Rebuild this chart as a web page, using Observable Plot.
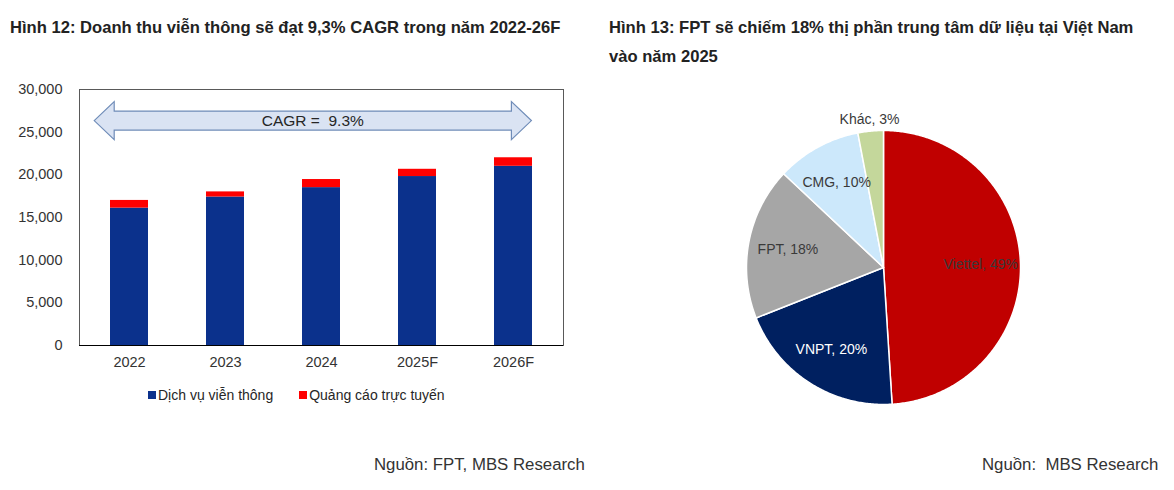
<!DOCTYPE html>
<html>
<head>
<meta charset="utf-8">
<script src="https://cdn.jsdelivr.net/npm/d3@7"></script>
<script src="https://cdn.jsdelivr.net/npm/@observablehq/plot@0.6"></script>
<style>
  html, body { margin: 0; padding: 0; }
  body { width: 1174px; height: 490px; background: #fff; position: relative; overflow: hidden;
         font-family: "Liberation Sans", Arial, sans-serif; }
  .title { position: absolute; font-weight: bold; font-size: 16.6px; color: #222; line-height: 29px; white-space: nowrap; }
  .src { position: absolute; font-size: 16.8px; color: #333; white-space: pre; line-height: 19px; }
  .legend { position: absolute; font-size: 14px; color: #262626; white-space: nowrap; line-height: 16px; }
  .legend span.item { display: inline-flex; align-items: center; }
  .legend span.sw { display: inline-block; width: 8px; height: 8px; margin-right: 2px; }
  #bars, #pie { position: absolute; }
</style>
</head>
<body>
<div class="title" style="left:10px; top:13px;">Hình 12: Doanh thu viễn thông sẽ đạt 9,3% CAGR trong năm 2022-26F</div>
<div class="title" style="left:609px; top:13px;">Hình 13: FPT sẽ chiếm 18% thị phần trung tâm dữ liệu tại Việt Nam<br>vào năm 2025</div>
<div id="bars" style="left:0; top:70px;"></div>
<div id="legend" class="legend" style="left:148px; top:386px;"></div>
<div id="pie" style="left:600px; top:90px;"></div>
<div class="src" style="left:374px; top:455px;">Nguồn: FPT, MBS Research</div>
<div class="src" style="left:982px; top:455px;">Nguồn:  MBS Research</div>

<script>
// ---------- Data ----------
const years = ["2022", "2023", "2024", "2025F", "2026F"];
const seriesNames = ["Dịch vụ viễn thông", "Quảng cáo trực tuyến"];
const telecomValues = [16100, 17400, 18500, 19800, 21000];
const adsValues = [900, 600, 950, 850, 1000];
const yTicks = [0, 5000, 10000, 15000, 20000, 25000, 30000];
const barColors = ["#0b318c", "#ff0000"];
const cagrLabel = "CAGR =  9.3%";
const cagrLevel = 26300;

const pieNames = ["Viettel", "VNPT", "FPT", "CMG", "Khác"];
const pieShares = [49, 20, 18, 10, 3];
const pieColors = ["#c00000", "#002060", "#a6a6a6", "#cce8fb", "#c4d79b"];

// ---------- Bar chart ----------
const barRows = [];
years.forEach((y, i) => {
  barRows.push({year: y, series: seriesNames[0], value: telecomValues[i]});
  barRows.push({year: y, series: seriesNames[1], value: adsValues[i]});
});

function cagrArrow(index, scales, values, dimensions) {
  const xs = scales.x, ys = scales.y;
  const {width, marginLeft, marginRight} = dimensions;
  const step = (width - marginLeft - marginRight) / years.length;
  const bw = xs.bandwidth ? xs.bandwidth() : step * 0.4;
  const c0 = xs(years[0]) + bw / 2;
  const cN = xs(years[years.length - 1]) + bw / 2;
  const L = c0 - 0.36 * step, R = cN + 0.19 * step;
  const yc = ys(cagrLevel);
  const shaft = 9.5, head = 19, headLen = 20;
  const d = [
    [L, yc], [L + headLen, yc - head], [L + headLen, yc - shaft],
    [R - headLen, yc - shaft], [R - headLen, yc - head], [R, yc],
    [R - headLen, yc + head], [R - headLen, yc + shaft],
    [L + headLen, yc + shaft], [L + headLen, yc + head]
  ].map((p, i) => (i ? "L" : "M") + p[0].toFixed(1) + "," + p[1].toFixed(1)).join("") + "Z";
  const g = d3.create("svg:g");
  g.append("path").attr("d", d).attr("fill", "#dae3f3").attr("stroke", "#6f8cb8").attr("stroke-width", 1.2);
  g.append("text").attr("x", (L + R) / 2).attr("y", yc).attr("dy", "0.35em")
    .attr("text-anchor", "middle").attr("font-size", 15.5).attr("fill", "#262626")
    .style("white-space", "pre").text(cagrLabel);
  return g.node();
}

const bars = Plot.plot({
  width: 600, height: 310,
  marginTop: 19, marginBottom: 35, marginLeft: 79, marginRight: 37,
  style: {fontSize: "14.5px", fontFamily: "'Liberation Sans', Arial, sans-serif", color: "#333", background: "transparent", overflow: "visible"},
  x: {domain: years, paddingInner: 0.6, paddingOuter: 0.3, label: null, tickSize: 0, tickPadding: 11},
  y: {domain: [0, 30000], ticks: yTicks, tickFormat: d3.format(","), label: null, tickSize: 0, tickPadding: 17},
  color: {domain: seriesNames, range: barColors},
  marks: [
    Plot.barY(barRows, {x: "year", y: "value", fill: "series"}),
    Plot.frame({stroke: "#595959", strokeWidth: 1}),
    Plot.ruleY([0], {stroke: "#000", strokeWidth: 1.2}),
    cagrArrow
  ]
});
document.getElementById("bars").appendChild(bars);

// legend
const leg = document.getElementById("legend");
seriesNames.forEach((n, i) => {
  const it = document.createElement("span");
  it.className = "item";
  it.style.marginRight = i === 0 ? "26px" : "0";
  const sw = document.createElement("span");
  sw.className = "sw";
  sw.style.background = barColors[i];
  it.appendChild(sw);
  it.appendChild(document.createTextNode(n));
  leg.appendChild(it);
});

// ---------- Pie chart ----------
const arcs = d3.pie().value(d => d).sort(null)(pieShares);
const slicePts = [];
arcs.forEach((a, i) => {
  const name = pieNames[i];
  slicePts.push({name, x: 0, y: 0});
  const n = Math.max(2, Math.ceil((a.endAngle - a.startAngle) / 0.01));
  for (let k = 0; k <= n; k++) {
    const t = a.startAngle + (a.endAngle - a.startAngle) * k / n;
    slicePts.push({name, x: Math.sin(t), y: Math.cos(t)});
  }
});
const labels = arcs.map((a, i) => {
  const mid = (a.startAngle + a.endAngle) / 2;
  const outside = pieShares[i] < 5;
  const r = outside ? 1.085 : 0.71;
  return {name: pieNames[i], text: `${pieNames[i]}, ${pieShares[i]}%`, x: r * Math.sin(mid), y: r * Math.cos(mid), light: pieNames[i] === "VNPT"};
});

const R = 137, cx = 283, cy = 177;
const pie = Plot.plot({
  width: 574, height: 340,
  style: {fontSize: "14px", fontFamily: "'Liberation Sans', Arial, sans-serif", background: "transparent", overflow: "visible"},
  x: {domain: [-1, 1], range: [cx - R, cx + R], axis: null},
  y: {domain: [-1, 1], range: [cy + R, cy - R], axis: null},
  color: {domain: pieNames, range: pieColors},
  marks: [
    Plot.line(slicePts, {x: "x", y: "y", z: "name", fill: "name", stroke: "white", strokeWidth: 1.5, curve: "linear-closed"}),
    Plot.text(labels.filter(d => !d.light), {x: "x", y: "y", text: "text", fill: "#3a3a3a", fontSize: 14}),
    Plot.text(labels.filter(d => d.light), {x: "x", y: "y", text: "text", fill: "#ffffff", fontSize: 14})
  ]
});
document.getElementById("pie").appendChild(pie);
</script>
</body>
</html>
